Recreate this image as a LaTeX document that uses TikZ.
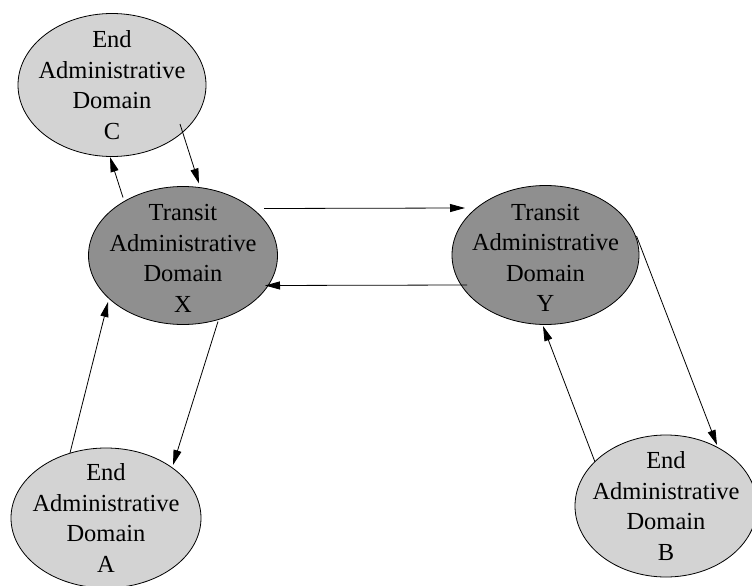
\documentclass[tikz,border=0pt]{standalone}
\usepackage{fontspec}
\setmainfont{Liberation Serif}
\usetikzlibrary{shapes.geometric,arrows.meta}
\definecolor{endfill}{RGB}{211,211,211}
\definecolor{transfill}{RGB}{143,143,143}
\tikzset{
  dom/.style={ellipse, draw=black, line width=0.8pt, inner sep=0pt},
  enddom/.style={dom, fill=endfill},
  transdom/.style={dom, fill=transfill},
  domtext/.style={inner sep=0pt, align=center, font=\fontsize{24.5}{30.5}\selectfont},
  conn/.style={line width=0.8pt, -{Triangle[length=15pt,width=8pt]}}
}
\begin{document}
\begin{tikzpicture}[x=1pt,y=1pt]
\clip (0,0) rectangle (752,-586);
\fill[white] (0,0) rectangle (752,-586);
\node[enddom, minimum width=188pt, minimum height=143pt] (C) at (112,-85) {};
\node[domtext] (Ct) at (C.center) {End\\Administrative\\Domain\\C};
\node[transdom, minimum width=189pt, minimum height=138pt] (X) at (183,-255.5) {};
\node[domtext] (Xt) at ([yshift=-3pt]X.center) {Transit\\Administrative\\Domain\\X};
\node[transdom, minimum width=187pt, minimum height=139pt] (Y) at (545.5,-255) {};
\node[domtext] (Yt) at ([yshift=-3pt]Y.center) {Transit\\Administrative\\Domain\\Y};
\node[enddom, minimum width=190pt, minimum height=140pt] (A) at (106,-518) {};
\node[domtext] (At) at (A.center) {End\\Administrative\\Domain\\A};
\node[enddom, minimum width=182pt, minimum height=142pt] (B) at (666,-506) {};
\node[domtext] (Bt) at (B.center) {End\\Administrative\\Domain\\B};
% X -> C
\draw[conn] ([shift={(-60,58)}]X.center) -- ([shift={(-2,-72)}]C.center);
% C -> X
\draw[conn] ([shift={(68,-39)}]C.center) -- ([shift={(16,72)}]X.center);
% X -> Y
\draw[conn] ([shift={(81,47)}]X.center) -- ([shift={(-80.5,47)}]Y.center);
% Y -> X
\draw[conn] ([shift={(-78.5,-30)}]Y.center) -- ([shift={(82,-30)}]X.center);
% A -> X
\draw[conn] ([shift={(-36,65)}]A.center) -- ([shift={(-75,-46.5)}]X.center);
% X -> A
\draw[conn] ([shift={(35,-66)}]X.center) -- ([shift={(67,53)}]A.center);
% Y -> B
\draw[conn] ([shift={(91,19)}]Y.center) -- ([shift={(51,61)}]B.center);
% B -> Y
\draw[conn] ([shift={(-71,44)}]B.center) -- ([shift={(-2.5,-71)}]Y.center);
\end{tikzpicture}
\end{document}
